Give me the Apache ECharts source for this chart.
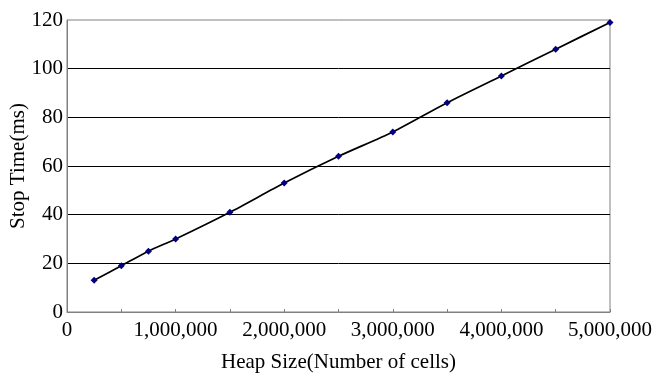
<!DOCTYPE html>
<html><head><meta charset="utf-8">
<script src="https://cdn.jsdelivr.net/npm/echarts@6/dist/echarts.min.js"></script>
<style>html,body{margin:0;padding:0;background:#fff}#c{width:656px;height:374px}</style>
</head><body><div id="c"></div>
<script>
const heapSizes = [250000, 500000, 750000, 1000000, 1500000, 2000000, 2500000, 3000000, 3500000, 4000000, 4500000, 5000000];
const stopTimes = [13, 19, 25, 30, 41, 53, 64, 74, 86, 97, 108, 119];
const xTitle = 'Heap Size(Number of cells)';
const yTitle = 'Stop Time(ms)';

const chart = echarts.init(document.getElementById('c'), null, {renderer: 'canvas'});
const font = '"Liberation Serif", "Times New Roman", serif';
chart.setOption({
  animation: false,
  backgroundColor: '#fff',
  grid: {left: 67, top: 20, right: 46, bottom: 62, show: true, borderColor: '#808080', borderWidth: 1,
    backgroundColor: 'transparent', containLabel: false, outerBoundsMode: 'none'},
  xAxis: {
    type: 'value', min: 0, max: 5000000, interval: 500000,
    name: xTitle, nameLocation: 'middle', nameGap: 40, nameMoveOverlap: false,
    nameTextStyle: {fontFamily: font, fontSize: 21, color: '#000'},
    axisLine: {show: true, lineStyle: {color: '#808080', width: 1}},
    axisTick: {show: true, inside: true, length: 3, lineStyle: {color: '#808080'}},
    axisLabel: {fontFamily: font, fontSize: 21, color: '#000', margin: 8,
      formatter: v => (v % 1000000 === 0 ? v.toLocaleString('en-US') : '')},
    splitLine: {show: false}
  },
  yAxis: {
    type: 'value', min: 0, max: 120, interval: 20,
    name: yTitle, nameLocation: 'middle', nameGap: 38, nameMoveOverlap: false,
    nameTextStyle: {fontFamily: font, fontSize: 21, color: '#000'},
    axisLine: {show: true, lineStyle: {color: '#808080', width: 1}},
    axisTick: {show: false},
    axisLabel: {fontFamily: font, fontSize: 21, color: '#000', margin: 4},
    splitLine: {show: true, showMinLine: false, showMaxLine: false, lineStyle: {color: '#000', width: 1}}
  },
  series: [{
    type: 'line',
    data: heapSizes.map((x, i) => [x, stopTimes[i]]),
    smooth: 0.25,
    symbol: 'diamond', symbolSize: 7,
    itemStyle: {color: '#000080'},
    lineStyle: {color: '#000', width: 1.7}
  }]
});
</script></body></html>
